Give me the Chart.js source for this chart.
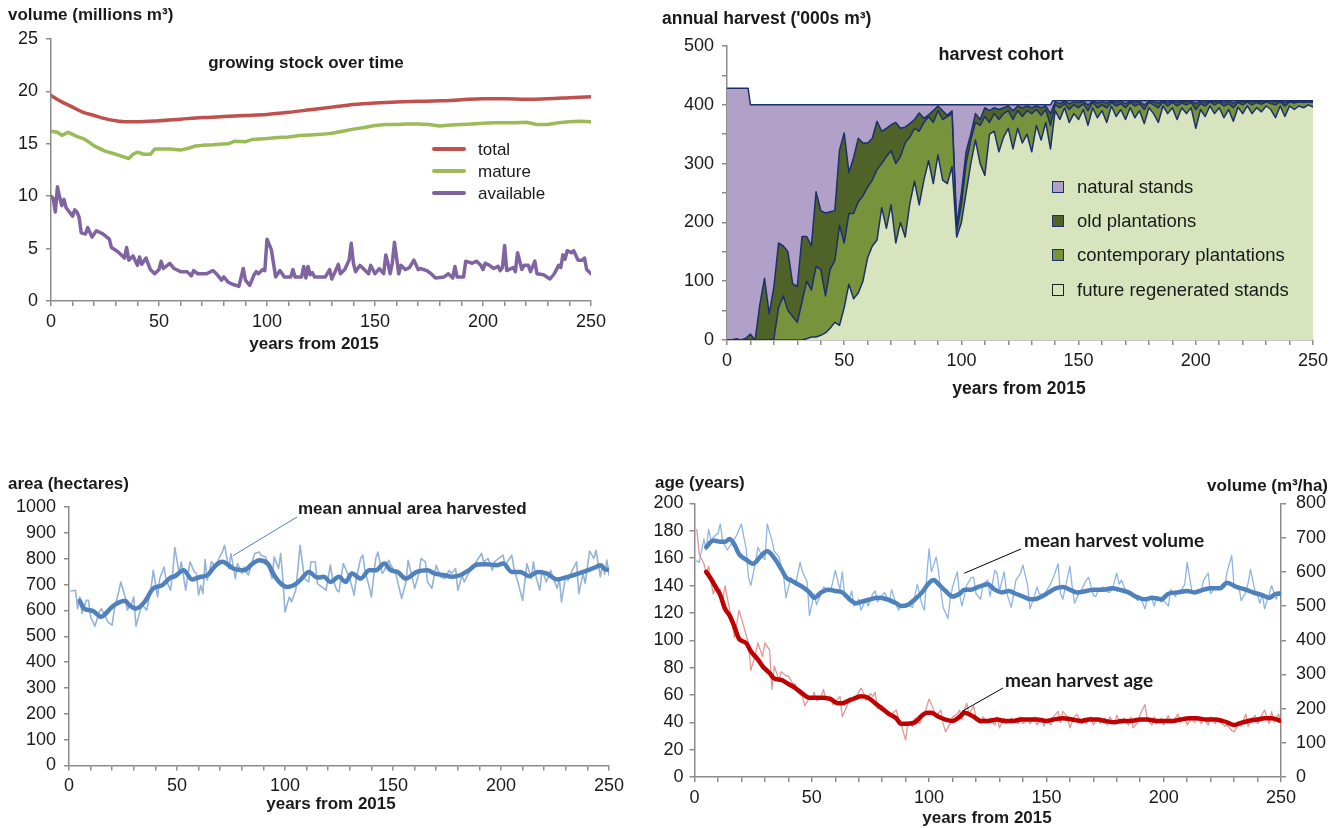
<!DOCTYPE html>
<html>
<head>
<meta charset="utf-8">
<script src="https://cdn.jsdelivr.net/npm/chart.js"></script>
<style>
  html, body { margin: 0; padding: 0; background: #fff; }
  body { width: 1340px; height: 828px; position: relative; overflow: hidden;
         font-family: "Liberation Sans", Arial, sans-serif; color: #1a1a1a; }
  canvas { position: absolute; }
  .ttl { position: absolute; white-space: nowrap; font-weight: bold; font-size: 17px; line-height: 17px; }
  .cx { transform: translateX(-50%); }
  .note { position: absolute; white-space: nowrap; font-weight: bold; font-size: 17px; line-height: 17px; }
  .note2 { position: absolute; white-space: nowrap; font-family: Lato, "Liberation Sans", sans-serif; font-weight: bold; font-size: 19px; line-height: 19px; }
  .lg { position: absolute; white-space: nowrap; font-size: 17px; line-height: 17px; }
  .lg2 { position: absolute; white-space: nowrap; font-size: 18.5px; line-height: 18px; }
  .lline { position: absolute; height: 4px; width: 34px; border-radius: 2px; }
  .lsq { position: absolute; width: 10px; height: 10px; border: 1px solid #1c2f6e; }
</style>
</head>
<body>

<canvas id="stock" width="620" height="360" style="left:0;top:0"></canvas>
<canvas id="cohort" width="690" height="400" style="left:650px;top:0"></canvas>
<canvas id="area" width="640" height="388" style="left:0;top:440px"></canvas>
<canvas id="ageVol" width="690" height="388" style="left:650px;top:440px"></canvas>

<!-- growing stock panel text -->
<div class="ttl" style="left:8px;top:6px">volume (millions m³)</div>
<div class="ttl cx" style="left:306px;top:54px">growing stock over time</div>
<div class="ttl cx" style="left:314px;top:335px">years from 2015</div>
<div class="lline" style="left:432px;top:147px;background:#C0504D"></div>
<div class="lline" style="left:432px;top:169px;background:#9BBB59"></div>
<div class="lline" style="left:432px;top:191px;background:#8064A2"></div>
<div class="lg" style="left:478px;top:141px">total</div>
<div class="lg" style="left:478px;top:163px">mature</div>
<div class="lg" style="left:478px;top:185px">available</div>

<!-- harvest cohort panel text -->
<div class="ttl" style="left:662px;top:10px;font-size:17.5px">annual harvest ('000s m³)</div>
<div class="ttl cx" style="left:1001px;top:46px;font-size:18px">harvest cohort</div>
<div class="ttl cx" style="left:1019px;top:380px;font-size:17.5px">years from 2015</div>
<div class="lsq" style="left:1052px;top:181px;background:#B1A0C7"></div>
<div class="lsq" style="left:1052px;top:215px;background:#4F6228"></div>
<div class="lsq" style="left:1052px;top:249px;background:#77933C"></div>
<div class="lsq" style="left:1052px;top:284px;background:#D7E4BD;border-color:#222"></div>
<div class="lg2" style="left:1077px;top:178px">natural stands</div>
<div class="lg2" style="left:1077px;top:212px">old plantations</div>
<div class="lg2" style="left:1077px;top:246px">contemporary plantations</div>
<div class="lg2" style="left:1077px;top:281px">future regenerated stands</div>

<!-- area panel text -->
<div class="ttl" style="left:8px;top:475px">area (hectares)</div>
<div class="note" style="left:298px;top:500px">mean annual area harvested</div>
<div class="ttl cx" style="left:331px;top:795px">years from 2015</div>

<!-- age / volume panel text -->
<div class="ttl" style="left:655px;top:474px">age (years)</div>
<div class="ttl" style="right:12px;top:477px">volume (m³/ha)</div>
<div class="note2" style="left:1024px;top:530px">mean harvest volume</div>
<div class="note2" style="left:1005px;top:670px">mean harvest age</div>
<div class="ttl cx" style="left:987px;top:809px">years from 2015</div>

<script>
// ---------- growing stock (millions m3) ----------
const totalYears = [0,5,10,15,20,25,30,35,40,50,60,70,80,90,100,110,120,130,140,150,160,170,180,190,200,210,220,230,240,250];
const totalStock = [19.6,19.0,18.5,18.0,17.7,17.4,17.2,17.1,17.1,17.2,17.35,17.5,17.6,17.7,17.8,18.0,18.25,18.5,18.75,18.9,19.0,19.05,19.1,19.2,19.3,19.3,19.25,19.3,19.4,19.5];

const matureYears = [0,3,5,8,10,12,15,18,20,25,30,33,36,38,40,43,46,48,52,55,60,64,67,70,75,78,82,85,90,93,100,105,110,115,120,125,130,135,140,145,150,155,160,165,170,175,180,185,190,195,200,205,210,215,220,225,230,235,240,245,250];
const matureStock = [16.2,16.1,15.8,16.1,15.9,15.7,15.5,15.1,14.8,14.3,14.0,13.8,13.6,14.0,14.2,14.0,14.0,14.5,14.5,14.5,14.4,14.6,14.8,14.85,14.9,14.95,15.0,15.25,15.2,15.4,15.5,15.6,15.65,15.8,15.85,15.9,16.0,16.2,16.4,16.55,16.75,16.85,16.85,16.9,16.9,16.85,16.7,16.8,16.85,16.9,16.95,17.0,17.0,17.0,17.05,16.85,16.85,17.0,17.1,17.15,17.1];

const availableYears = [
  0,1,2,3,4,5,6,7,10,11,
  12,13,14,16,17,19,21,24,27,28,
  31,34,35,36,38,40,41,42,44,46,
  48,50,51,52,55,57,60,63,65,66,
  68,72,75,77,79,80,82,84,87,89,
  90,92,94,95,96,98,99,100,102,104,
  106,108,111,112,113,116,117,118,119,120,
  121,122,127,129,130,132,133,134,136,138,
  139,140,141,143,145,147,148,150,152,154,
  155,156,157,158,159,161,162,164,166,168,
  170,171,174,176,178,182,184,186,187,188,
  191,192,195,197,199,200,201,203,205,207,
  208,209,210,211,214,215,216,218,219,221,
  222,224,225,228,231,233,235,236,237,238,
  239,241,242,244,246,247,248,250];
const availableStock = [
  10.0,9.8,8.5,10.9,9.9,9.1,9.7,8.9,8.1,8.7,
  8.5,8.0,6.5,6.4,7.0,6.1,6.7,6.4,5.9,5.1,
  4.7,4.1,5.1,3.9,4.3,3.4,4.2,3.5,4.1,3.0,
  2.6,3.0,3.8,3.1,3.6,3.1,2.8,2.8,2.4,2.9,
  2.6,2.6,2.9,2.5,2.0,2.3,1.8,1.6,1.4,3.1,
  2.0,1.5,2.5,2.8,2.6,3.0,2.9,5.9,4.9,2.3,
  2.9,2.3,2.3,3.0,2.3,2.3,3.3,2.2,3.3,2.5,
  2.7,2.3,2.3,3.0,2.1,3.0,3.5,2.6,3.0,3.9,
  5.5,3.6,2.8,3.4,3.0,2.6,3.4,2.6,3.1,2.6,
  4.4,3.6,2.6,3.6,5.6,2.6,3.4,3.0,3.2,3.9,
  3.0,3.1,2.9,2.6,2.2,2.3,2.6,2.2,3.3,2.3,
  2.3,3.8,3.6,3.8,3.4,3.0,3.6,3.4,3.1,3.3,
  2.9,3.2,5.3,2.9,3.2,2.8,4.6,3.0,3.4,3.4,
  2.8,3.8,2.6,2.5,2.1,2.6,3.4,3.2,4.4,4.0,
  4.8,4.6,4.8,3.9,3.9,4.1,3.0,2.6];

// ---------- annual harvest by cohort ('000s m3), upper edge of each layer ----------
const cohortYears = [
  0,2,4,6,8,10,12,14,16,18,
  20,22,24,26,28,30,32,34,36,38,
  40,42,44,46,48,50,52,54,56,58,
  60,62,64,66,68,70,72,74,76,78,
  80,82,84,86,88,90,92,94,96,98,
  100,102,104,106,108,110,112,114,116,118,
  120,122,124,126,128,130,132,134,136,138,
  140,142,144,146,148,150,152,154,156,158,
  160,162,164,166,168,170,172,174,176,178,
  180,182,184,186,188,190,192,194,196,198,
  200,202,204,206,208,210,212,214,216,218,
  220,222,224,226,228,230,232,234,236,238,
  240,242,244,246,248,250];
// future regenerated stands
const regeneratedTop = [
  0,0,0,0,0,0,0,0,0,0,
  0,0,0,0,0,0,0,2,5,5,
  8,12,20,30,25,55,95,70,80,100,
  140,160,170,225,190,230,165,200,175,232,
  270,230,272,305,266,315,272,266,295,175,
  200,250,300,340,300,280,350,355,320,345,
  360,325,360,335,350,320,365,340,370,325,
  390,375,395,370,385,375,392,365,395,378,
  390,370,398,380,392,375,395,378,390,368,
  395,385,370,398,385,395,375,395,385,395,
  360,392,380,398,385,395,378,392,372,396,
  385,398,385,395,388,398,392,378,398,380,
  398,392,398,395,400,396];
// + contemporary plantations
const contemporaryTop = [
  0,0,0,0,0,0,0,0,0,0,
  2,55,75,50,40,30,65,100,85,125,
  120,75,120,135,195,165,215,215,235,245,
  260,272,290,300,312,322,300,312,335,345,
  360,355,370,380,370,390,375,380,385,185,
  230,300,340,370,365,380,370,385,375,385,
  390,375,390,380,390,385,392,382,392,365,
  400,395,402,392,400,395,402,390,404,395,
  400,395,404,398,402,395,404,398,402,392,
  404,400,395,405,398,404,398,403,400,404,
  392,402,398,405,400,404,398,402,395,404,
  400,405,400,404,401,405,402,400,405,398,
  405,403,405,404,405,404];
// + old plantations
const oldPlantationTop = [
  0,0,2,0,3,10,0,60,105,45,
  90,165,160,150,96,91,176,176,160,252,
  220,216,218,220,323,352,285,310,343,335,
  335,343,372,355,360,366,370,360,362,368,
  375,386,377,383,390,398,390,382,390,195,
  250,320,350,385,375,395,390,395,392,395,
  398,390,398,395,398,395,398,395,398,385,
  405,402,406,402,405,404,406,400,406,403,
  405,403,406,404,406,402,406,404,406,400,
  406,405,403,406,404,406,404,406,405,406,
  402,406,404,406,405,406,404,406,403,406,
  405,406,405,406,405,406,406,405,406,404,
  406,406,406,406,406,406];
// + natural stands = total harvest
const harvestTotalYears = [0,9,10,138,139,250];
const harvestTotal = [428,428,400,400,407,407];

// ---------- mean annual area harvested (ha) ----------
const areaYears = [
  1,3,4,5,6,8,9,10,12,14,
  15,17,18,20,21,23,24,26,27,29,
  30,31,33,34,36,38,39,41,42,44,
  45,47,48,49,51,52,54,56,58,59,
  60,61,62,63,64,66,68,69,71,72,
  74,75,77,78,80,81,83,85,86,88,
  89,91,92,94,95,97,98,99,100,102,
  103,105,107,109,111,112,114,115,118,119,
  121,122,124,125,127,128,130,132,133,135,
  136,137,139,140,142,143,145,146,148,149,
  151,152,154,156,157,159,160,162,163,165,
  166,168,170,172,174,176,177,179,180,182,
  183,185,187,189,191,192,194,196,197,199,
  201,202,203,205,206,208,210,212,214,215,
  216,218,219,221,223,224,226,227,228,230,
  231,233,235,236,238,239,241,243,244,246,
  247,248,249,250];
const areaAnnual = [
  675,678,607,652,588,639,639,575,539,594,
  607,575,555,543,607,672,710,652,601,626,
  652,539,601,620,601,685,755,652,723,768,
  717,678,743,843,743,788,678,788,749,743,
  659,697,665,797,717,788,768,794,826,852,
  762,820,723,781,743,768,736,794,820,826,
  813,807,781,723,807,762,820,723,594,652,
  633,678,852,723,710,788,788,704,685,678,
  775,723,678,672,781,762,723,659,723,801,
  814,755,691,652,801,826,743,755,794,775,
  749,717,646,710,794,723,685,743,801,788,
  710,685,775,730,723,755,743,762,678,736,
  710,743,768,794,820,788,801,755,788,801,
  814,768,788,814,762,704,639,781,723,788,
  736,678,755,710,755,730,685,723,633,736,
  717,755,788,665,743,704,830,801,833,730,
  780,740,795,735];
const areaMeanYears = [5,7,11,15,17,20,26,28,31,35,39,43,47,49,53,57,61,64,68,71,76,81,85,88,92,95,98,101,104,107,111,115,118,121,125,128,131,135,139,142,146,149,152,156,161,166,169,174,177,181,185,189,193,198,201,205,209,213,217,221,226,231,236,240,244,246,248,250];
const areaMean = [637,607,598,575,588,614,637,620,607,633,685,697,727,732,755,720,730,736,775,788,762,755,781,794,781,736,704,691,697,717,749,727,730,710,730,710,743,723,755,755,781,755,749,723,749,755,743,736,730,736,755,778,779,775,781,749,749,732,749,743,720,730,743,755,768,775,760,757];

// ---------- mean harvest age (years) and volume (m3/ha) ----------
const volumeYears = [
  1,2,4,5,6,7,9,10,11,12,
  14,16,18,19,20,22,23,24,26,27,
  29,30,31,33,34,36,38,39,41,43,
  45,46,48,49,51,52,54,55,57,58,
  59,60,62,63,64,66,67,68,70,71,
  73,74,76,77,78,80,81,83,84,86,
  87,88,90,91,93,94,95,97,98,99,
  100,101,103,104,105,106,108,109,110,112,
  113,114,116,118,119,120,122,123,125,126,
  128,129,130,132,133,135,136,137,139,140,
  142,143,145,146,147,149,150,152,153,155,
  156,157,159,160,161,162,164,165,167,168,
  170,171,172,174,175,177,178,180,181,182,
  184,185,187,189,190,192,193,195,196,197,
  199,200,202,203,205,206,207,209,210,212,
  213,215,216,217,219,220,222,223,225,226,
  227,229,230,232,233,235,236,237,239,240,
  241,242,243,245,246,248,249,250];
const volumeAnnual = [
  632,628,696,664,724,692,708,712,740,688,
  664,684,708,724,740,668,584,560,628,672,
  644,636,740,692,660,644,588,524,584,560,
  628,600,572,472,536,504,536,556,548,544,
  572,604,548,600,532,520,544,500,520,488,
  520,500,536,544,512,532,540,512,548,504,
  488,504,496,504,496,532,564,504,488,588,
  668,600,644,604,544,496,464,520,556,600,
  532,500,560,584,584,536,520,564,576,528,
  604,596,544,600,540,496,532,576,596,620,
  560,492,532,556,536,532,544,568,584,624,
  536,520,584,616,556,508,540,548,576,584,
  532,528,544,556,544,540,548,596,564,576,
  540,536,528,516,528,492,520,520,500,528,
  512,516,500,548,528,544,540,564,628,544,
  536,548,544,576,596,536,556,548,564,556,
  600,648,556,560,516,540,568,608,540,532,
  508,536,492,536,560,520,544,536];
const volumeMeanYears = [5,8,11,13,15,17,19,22,25,28,31,34,37,39,42,46,49,51,54,57,60,63,66,69,71,75,78,82,86,88,91,94,97,100,102,104,107,110,113,115,118,121,125,128,131,134,137,140,143,145,148,151,154,157,160,163,167,170,174,178,181,185,188,192,195,199,202,206,210,213,217,220,224,227,231,235,238,242,245,248,250];
const volumeMean = [672,692,688,688,696,680,652,636,624,644,660,640,608,584,572,556,540,524,540,548,544,540,520,508,512,520,524,520,508,500,504,520,540,568,576,564,544,528,536,548,548,556,564,548,540,544,536,528,520,520,528,540,552,556,548,540,544,548,548,552,548,540,528,520,524,520,536,540,544,540,548,552,552,568,556,548,540,532,524,536,536];

const ageYears = [
  1,2,4,5,6,7,8,9,11,12,
  13,15,16,17,19,21,23,24,26,27,
  29,30,32,33,34,36,37,39,40,42,
  43,44,46,47,49,50,51,52,54,55,
  56,58,59,61,62,63,65,66,68,69,
  71,72,73,75,76,77,78,80,81,83,
  84,86,87,88,90,91,93,94,96,97,
  98,100,102,103,105,106,107,109,110,112,
  113,114,116,117,119,120,122,123,125,126,
  128,129,130,132,133,135,136,138,139,140,
  142,143,145,146,148,149,150,152,153,155,
  156,157,159,160,162,163,165,166,167,169,
  170,172,173,175,176,177,179,180,182,183,
  185,186,187,189,190,192,193,195,196,197,
  199,200,202,203,205,206,207,209,210,212,
  213,215,216,217,219,220,222,223,225,226,
  227,229,230,232,233,235,236,237,239,240,
  242,243,245,246,247,249,250];
const ageAnnual = [
  181,163,156,149,154,143,134,138,137,129,
  140,122,114,102,122,110,98,78,90,98,
  88,98,93,64,81,71,77,74,74,68,
  68,62,59,52,58,57,62,56,59,64,
  56,59,53,57,59,44,52,58,56,59,
  65,62,56,61,59,62,50,52,49,45,
  46,49,42,39,27,40,37,43,39,44,
  46,57,49,44,49,39,33,39,44,46,
  49,42,54,46,52,43,39,44,39,43,
  38,44,36,43,39,43,42,39,44,39,
  42,39,44,38,43,37,42,38,44,48,
  40,48,44,36,44,46,39,43,39,44,
  38,43,39,43,38,44,39,45,39,43,
  38,44,36,40,46,53,42,38,44,39,
  43,38,45,39,43,46,40,44,38,43,
  40,44,39,43,38,44,39,43,39,37,
  38,34,33,39,37,46,37,42,45,39,
  46,49,39,48,40,46,39];
const ageMeanYears = [5,7,9,11,13,15,17,19,22,24,27,29,32,34,37,40,43,46,49,52,55,58,61,63,66,69,71,74,77,80,83,86,88,91,94,97,99,101,104,107,110,113,115,119,122,125,129,132,136,139,143,146,150,153,157,161,165,168,172,175,179,182,186,190,193,197,200,204,207,211,214,218,222,225,227,230,232,236,240,243,246,250];
const ageMean = [150,145,139,133,123,118,110,101,98,92,86,81,76,72,71,68,65,61,58,58,58,57,54,54,56,58,59,58,54,50,46,43,39,39,40,45,47,47,44,42,41,44,47,44,41,41,42,41,41,42,42,42,41,42,43,42,41,42,42,41,40,41,41,42,42,41,41,41,42,43,43,42,42,41,40,38,39,41,42,43,43,41];

// ---------- shared styling ----------
const FONT = "'Liberation Sans', Arial, sans-serif";
const AXIS = '#8c8c8c';
const TXT = '#1a1a1a';
const NAVY = '#1c2f6e';
const TICK_SIZE = 18;

function points(xs, ys) { return xs.map((x, i) => ({ x: x, y: ys[i] })); }

function xAxis(height) {
  return {
    type: 'linear', min: 0, max: 250,
    border: { display: true, color: AXIS, width: 1.5 },
    grid: { display: true, drawOnChartArea: false, drawTicks: true, tickLength: 5, color: AXIS, lineWidth: 1.5 },
    ticks: { stepSize: 10, autoSkip: false, maxRotation: 0, padding: 5, color: TXT,
             font: { family: FONT, size: TICK_SIZE },
             callback: v => (v % 50 === 0 ? String(v) : '') },
    afterFit: s => { s.height = height; }
  };
}

function yAxis(min, max, step, labelEvery, width, position, pad) {
  return {
    type: 'linear', min: min, max: max, position: position || 'left',
    border: { display: true, color: AXIS, width: 1.5 },
    grid: { display: true, drawOnChartArea: false, drawTicks: true, tickLength: 5, color: AXIS, lineWidth: 1.5 },
    ticks: { stepSize: step, autoSkip: false, padding: pad || 8, color: TXT,
             font: { family: FONT, size: TICK_SIZE },
             callback: v => (v % labelEvery === 0 ? String(v) : '') },
    afterFit: s => { s.width = width; }
  };
}

function line(data, color, width, extra) {
  return Object.assign({ data: data, borderColor: color, borderWidth: width, pointRadius: 0,
                         fill: false, tension: 0, borderJoinStyle: 'round', borderCapStyle: 'round' }, extra || {});
}

function baseOptions(padding, scales, plugins) {
  return {
    responsive: false, animation: false, devicePixelRatio: 1,
    layout: { padding: padding },
    plugins: Object.assign({ legend: { display: false }, tooltip: { enabled: false } }, plugins || {}),
    scales: scales
  };
}

// leader line from a data point to a label position (canvas pixels)
function leaderPlugin(items) {
  return {
    id: 'leaders',
    afterDatasetsDraw(chart) {
      const ctx = chart.ctx;
      items.forEach(it => {
        const x0 = chart.scales.x.getPixelForValue(it.year);
        const y0 = chart.scales[it.axis].getPixelForValue(it.value);
        ctx.save();
        ctx.strokeStyle = it.color;
        ctx.lineWidth = 1;
        ctx.beginPath();
        ctx.moveTo(x0, y0);
        ctx.lineTo(it.toX, it.toY);
        ctx.stroke();
        ctx.restore();
      });
    }
  };
}

// ---------- growing stock over time ----------
new Chart(document.getElementById('stock'), {
  type: 'line',
  data: { datasets: [
    line(points(totalYears, totalStock), '#C0504D', 3.5, { cubicInterpolationMode: 'monotone' }),
    line(points(matureYears, matureStock), '#9BBB59', 3.5),
    line(points(availableYears, availableStock), '#8064A2', 3.5)
  ] },
  options: baseOptions({ left: 0, right: 29, top: 39, bottom: 29 }, {
    x: xAxis(30),
    y: yAxis(0, 25, 5, 5, 51)
  })
});

// ---------- harvest cohort (layers drawn back to front) ----------
function layer(xs, ys, fillColor) {
  return { data: points(xs, ys), borderColor: NAVY, borderWidth: 1.5, backgroundColor: fillColor,
           fill: 'origin', pointRadius: 0, tension: 0, borderJoinStyle: 'round' };
}
new Chart(document.getElementById('cohort'), {
  type: 'line',
  data: { datasets: [
    layer(cohortYears, regeneratedTop, '#D7E4BD'),
    layer(cohortYears, contemporaryTop, '#77933C'),
    layer(cohortYears, oldPlantationTop, '#4F6228'),
    layer(harvestTotalYears, harvestTotal, '#B1A0C7')
  ] },
  options: baseOptions({ left: 0, right: 27, top: 46, bottom: 30 }, {
    x: xAxis(30),
    y: yAxis(0, 500, 50, 100, 77)
  }, { filler: { propagate: false } })
});

// ---------- mean annual area harvested ----------
new Chart(document.getElementById('area'), {
  type: 'line',
  data: { datasets: [
    line(points(areaMeanYears, areaMean), '#4F81BD', 4.5, { cubicInterpolationMode: 'monotone' }),
    line(points(areaYears, areaAnnual), '#95B3D7', 1.6)
  ] },
  options: baseOptions({ left: 0, right: 31, top: 67, bottom: 32 }, {
    x: xAxis(30.5),
    y: yAxis(0, 1000, 100, 100, 69)
  }),
  plugins: [leaderPlugin([{ year: 76, value: 812, axis: 'y', toX: 297, toY: 77, color: '#4F81BD' }])]
});

// ---------- mean harvest age and volume ----------
new Chart(document.getElementById('ageVol'), {
  type: 'line',
  data: { datasets: [
    line(points(ageMeanYears, ageMean), '#C00000', 4.5, { yAxisID: 'y', cubicInterpolationMode: 'monotone' }),
    line(points(volumeMeanYears, volumeMean), '#4F81BD', 4.5, { yAxisID: 'y1', cubicInterpolationMode: 'monotone' }),
    line(points(ageYears, ageAnnual), '#DE9896', 1.3, { yAxisID: 'y' }),
    line(points(volumeYears, volumeAnnual), '#8EB4E3', 1.3, { yAxisID: 'y1' })
  ] },
  options: baseOptions({ left: 0, right: 0, top: 63.5, bottom: 21 }, {
    x: xAxis(30),
    y: yAxis(0, 200, 20, 20, 44.5, 'left', 6),
    y1: yAxis(0, 800, 100, 100, 59, 'right', 10)
  }),
  plugins: [leaderPlugin([
    { year: 115, value: 596, axis: 'y1', toX: 371, toY: 109, color: '#000' },
    { year: 114, value: 48, axis: 'y', toX: 353, toY: 248, color: '#000' }
  ])]
});
</script>
</body>
</html>
